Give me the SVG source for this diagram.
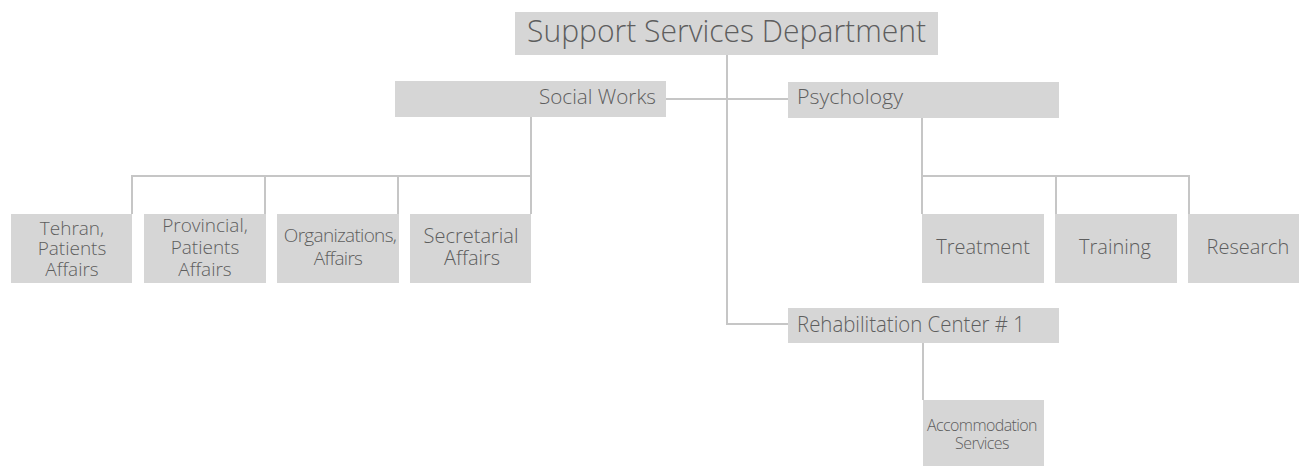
<svg xmlns="http://www.w3.org/2000/svg" width="1299" height="466" viewBox="0 0 1299 466">
<style>
.box{fill:#d6d6d6}
.t{font-family:"Open Sans","Liberation Sans",sans-serif;font-weight:300;fill:#5e5e5e}
.c{fill:none;stroke:#c6c6c6;stroke-width:2}
</style>
<rect width="1299" height="466" fill="#ffffff"/>
<g id="connectors">
<path class="c" d="M727,55 V324 H788"/>
<path class="c" d="M666,99 H788"/>
<path class="c" d="M531,117 V176 M132,214 V176 H531 V214 M265,176 V214 M398,176 V214"/>
<path class="c" d="M922,118 V214 M922,176 H1189 V214 M1056,176 V214"/>
<path class="c" d="M923,343 V400"/>
</g>
<g id="n-support">
<rect class="box" x="515" y="12" width="423" height="43"/>
<text class="t" x="527" y="42" font-size="31" textLength="399" lengthAdjust="spacingAndGlyphs">Support Services Department</text>
</g>
<g id="n-social">
<rect class="box" x="395" y="81" width="271" height="36"/>
<text class="t" x="539" y="104" font-size="21" textLength="117" lengthAdjust="spacingAndGlyphs">Social Works</text>
</g>
<g id="n-psych">
<rect class="box" x="788" y="82" width="271" height="36"/>
<text class="t" x="797" y="104" font-size="21" textLength="106" lengthAdjust="spacingAndGlyphs">Psychology</text>
</g>
<g id="n-rehab">
<rect class="box" x="788" y="308" width="271" height="35"/>
<text class="t" x="797" y="332" font-size="22" textLength="228" lengthAdjust="spacingAndGlyphs">Rehabilitation Center # 1</text>
</g>
<g id="n-tehran">
<rect class="box" x="11" y="214" width="121" height="69"/>
<text class="t" font-size="19" text-anchor="middle"><tspan x="72" y="235">Tehran,</tspan><tspan x="72" y="255">Patients</tspan><tspan x="72" y="276">Affairs</tspan></text>
</g>
<g id="n-provincial">
<rect class="box" x="144" y="214" width="122" height="69"/>
<text class="t" font-size="19" text-anchor="middle"><tspan x="205" y="232">Provincial,</tspan><tspan x="205" y="254">Patients</tspan><tspan x="205" y="276">Affairs</tspan></text>
</g>
<g id="n-organizations">
<rect class="box" x="277" y="214" width="122" height="69"/>
<text class="t" font-size="19" text-anchor="middle" letter-spacing="-0.7"><tspan x="340" y="242">Organizations,</tspan><tspan x="338" y="265">Affairs</tspan></text>
</g>
<g id="n-secretarial">
<rect class="box" x="410" y="214" width="121" height="69"/>
<text class="t" font-size="20" text-anchor="middle"><tspan x="471" y="243">Secretarial</tspan><tspan x="472" y="265">Affairs</tspan></text>
</g>
<g id="n-treatment">
<rect class="box" x="922" y="214" width="122" height="69"/>
<text class="t" x="983" y="254" font-size="20" text-anchor="middle">Treatment</text>
</g>
<g id="n-training">
<rect class="box" x="1055" y="214" width="122" height="69"/>
<text class="t" x="1115" y="254" font-size="20" text-anchor="middle">Training</text>
</g>
<g id="n-research">
<rect class="box" x="1188" y="214" width="111" height="69"/>
<text class="t" x="1248" y="254" font-size="20" text-anchor="middle">Research</text>
</g>
<g id="n-accommodation">
<rect class="box" x="923" y="400" width="121" height="66"/>
<text class="t" font-size="16" text-anchor="middle" letter-spacing="-0.6"><tspan x="982" y="431">Accommodation</tspan><tspan x="982" y="449">Services</tspan></text>
</g>
</svg>
